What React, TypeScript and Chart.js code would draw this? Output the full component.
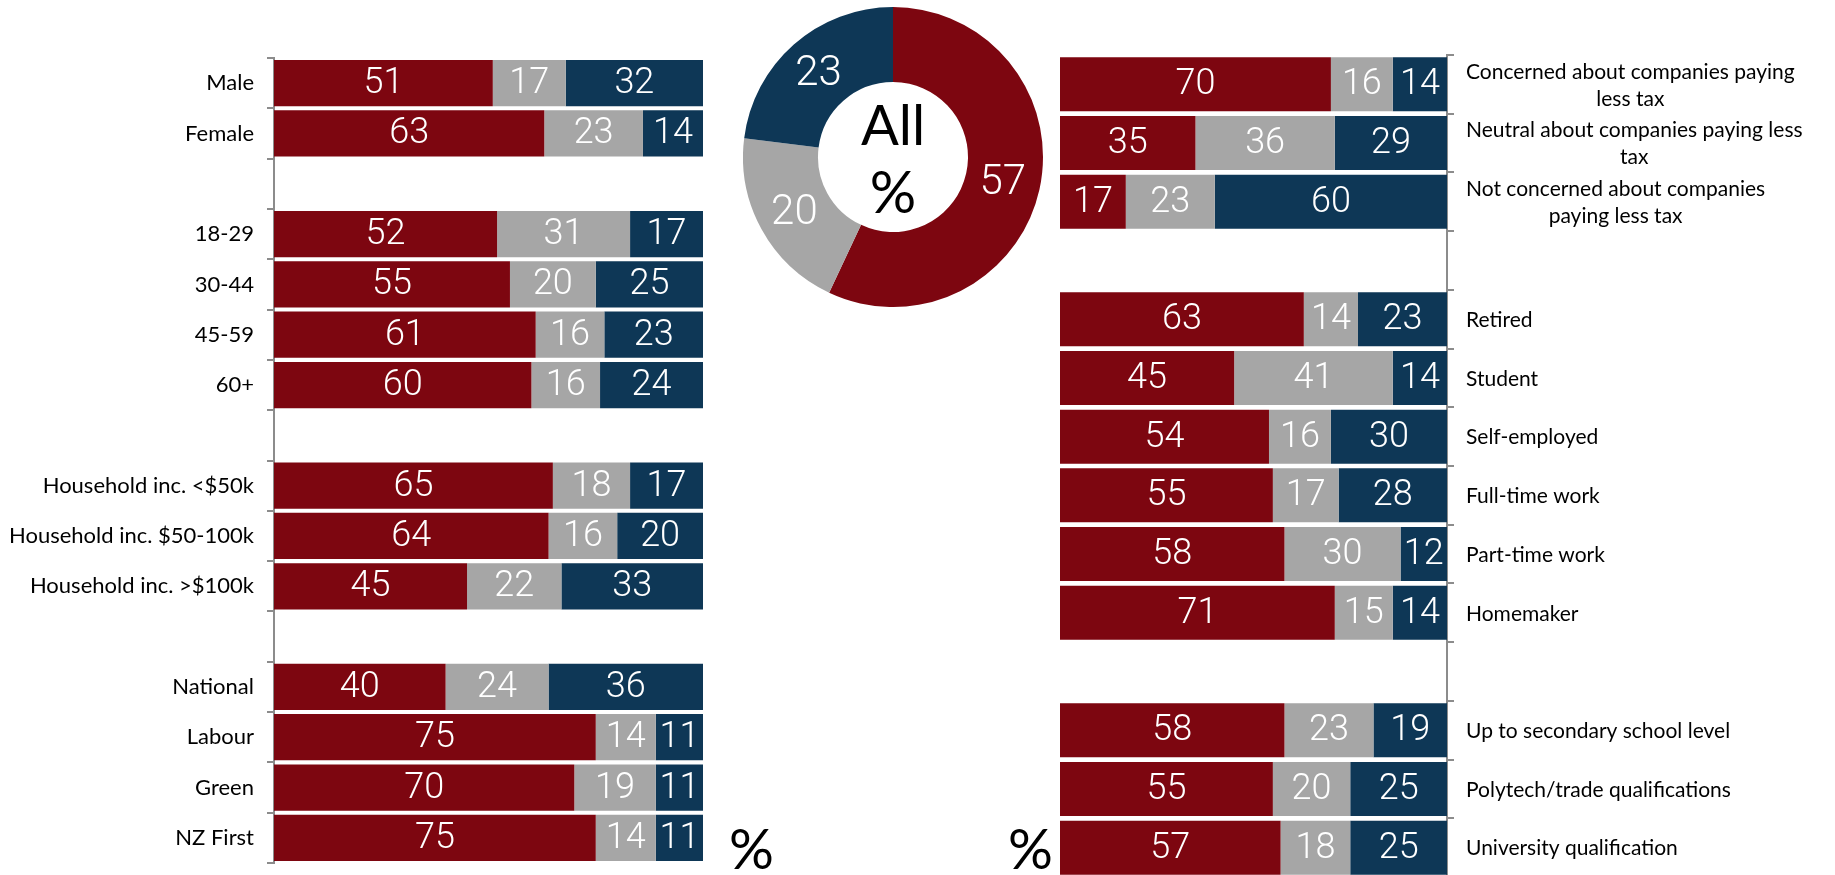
import React, { useEffect, useRef } from 'react';
import { Chart, registerables } from 'chart.js';

Chart.register(...registerables);

// ---------- data ----------
const leftCategories = [
  'Male', 'Female', '',
  '18-29', '30-44', '45-59', '60+', '',
  'Household inc. <$50k', 'Household inc. $50-100k', 'Household inc. >$100k', '',
  'National', 'Labour', 'Green', 'NZ First',
];
const leftConcerned = [51, 63, null, 52, 55, 61, 60, null, 65, 64, 45, null, 40, 75, 70, 75];
const leftNeutral = [17, 23, null, 31, 20, 16, 16, null, 18, 16, 22, null, 24, 14, 19, 14];
const leftNotConcerned = [32, 14, null, 17, 25, 23, 24, null, 17, 20, 33, null, 36, 11, 11, 11];

const rightCategories: (string | string[])[] = [
  ['Concerned about companies paying', 'less tax'],
  ['Neutral about companies paying less', 'tax'],
  ['Not concerned about companies', 'paying less tax'],
  '',
  'Retired', 'Student', 'Self-employed', 'Full-time work', 'Part-time work', 'Homemaker',
  '',
  'Up to secondary school level', 'Polytech/trade qualifications', 'University qualification',
];
const rightConcerned = [70, 35, 17, null, 63, 45, 54, 55, 58, 71, null, 58, 55, 57];
const rightNeutral = [16, 36, 23, null, 14, 41, 16, 17, 30, 15, null, 23, 20, 18];
const rightNotConcerned = [14, 29, 60, null, 23, 14, 30, 28, 12, 14, null, 19, 25, 25];

const seriesNames = ['Concerned', 'Neutral', 'Not concerned'];
const allValues = [57, 20, 23];
const centerLines = ['All', '%'];

// ---------- styles ----------
const RED = '#7D0610';
const GRAY = '#A6A6A6';
const BLUE = '#0E3756';
const AXIS = '#8C8C8C';
const LABEL_FONT = 'Lato';
const NUM_FONT = '300 36px Roboto';

// ---------- plugins ----------
const barValueLabels = {
  id: 'barValueLabels',
  afterDatasetsDraw(chart: any, _args: any, opts: any) {
    const ctx = chart.ctx;
    ctx.save();
    ctx.fillStyle = '#fff';
    ctx.font = opts.font || NUM_FONT;
    ctx.textAlign = 'center';
    ctx.textBaseline = 'middle';
    chart.data.datasets.forEach((ds: any, i: number) => {
      const meta = chart.getDatasetMeta(i);
      meta.data.forEach((el: any, j: number) => {
        const v = ds.data[j];
        if (v == null) return;
        const p = el.getProps(['x', 'y', 'base'], true);
        ctx.fillText(String(v), (p.x + p.base) / 2, p.y + 1);
      });
    });
    ctx.restore();
  },
};

const sideLabels = {
  id: 'sideLabels',
  afterDraw(chart: any, _args: any, opts: any) {
    if (!opts || !opts.enabled) return;
    const ctx = chart.ctx;
    const yScale = chart.scales.y;
    ctx.save();
    ctx.font = opts.font;
    ctx.fillStyle = '#000';
    ctx.textBaseline = 'middle';
    ctx.textAlign = 'center';
    const x0 = chart.chartArea.right + opts.gap;
    chart.data.labels.forEach((lab: any, i: number) => {
      const lines: string[] = Array.isArray(lab) ? lab : [lab];
      if (!lines[0]) return;
      const w = Math.max(...lines.map((l) => ctx.measureText(l).width));
      const cy = yScale.getPixelForValue(i);
      const total = (lines.length - 1) * opts.lineHeight;
      lines.forEach((l, k) => ctx.fillText(l, x0 + w / 2, cy - total / 2 + k * opts.lineHeight + 1));
    });
    ctx.restore();
  },
};

const donutLabels = {
  id: 'donutLabels',
  afterDatasetsDraw(chart: any) {
    const ctx = chart.ctx;
    const meta = chart.getDatasetMeta(0);
    const ds = chart.data.datasets[0];
    ctx.save();
    ctx.fillStyle = '#fff';
    ctx.font = '300 42px Roboto';
    ctx.textAlign = 'center';
    ctx.textBaseline = 'middle';
    meta.data.forEach((arc: any, i: number) => {
      const p = arc.getCenterPoint(true);
      ctx.fillText(String(ds.data[i]), p.x, p.y + 2);
    });
    const c = meta.data[0];
    const cx = c.x;
    const cy = c.y;
    ctx.fillStyle = '#000';
    ctx.font = '400 56px Lato';
    ctx.fillText(centerLines[0], cx, cy - 30);
    ctx.font = '400 58px Lato';
    ctx.fillText(centerLines[1], cx, cy + 37);
    ctx.restore();
  },
};

function makeBarConfig(
  labels: any[],
  a: (number | null)[],
  b: (number | null)[],
  c: (number | null)[],
  side: 'left' | 'right',
  axisWidth: number,
  padding: any,
  barPct: number,
) {
  const mk = (label: string, data: (number | null)[], color: string) => ({
    label,
    data,
    backgroundColor: color,
    borderWidth: 0,
    barPercentage: barPct,
    categoryPercentage: 1,
  });
  return {
    type: 'bar' as const,
    data: {
      labels,
      datasets: [mk(seriesNames[0], a, RED), mk(seriesNames[1], b, GRAY), mk(seriesNames[2], c, BLUE)],
    },
    plugins: [barValueLabels, sideLabels],
    options: {
      indexAxis: 'y' as const,
      animation: false as const,
      responsive: true,
      maintainAspectRatio: false,
      layout: { padding },
      plugins: {
        legend: { display: false },
        tooltip: { enabled: false },
        barValueLabels: { font: NUM_FONT },
        sideLabels: side === 'right'
          ? { enabled: true, font: `21px ${LABEL_FONT}`, gap: 19, lineHeight: 27 }
          : { enabled: false },
      },
      scales: {
        x: { stacked: true, min: 0, max: 100, display: false },
        y: {
          stacked: true,
          position: side,
          offset: true,
          grid: {
            offset: true,
            drawOnChartArea: false,
            drawTicks: true,
            tickLength: 7,
            color: AXIS,
            lineWidth: 2,
          },
          border: { display: true, color: AXIS, width: 2 },
          ticks: {
            display: side === 'left',
            autoSkip: false,
            color: '#000',
            padding: 13,
            font: { family: LABEL_FONT, size: 22 },
          },
          afterFit: (s: any) => {
            s.width = axisWidth;
            s.paddingTop = 0;
            s.paddingBottom = 0;
          },
        },
      },
    },
  };
}

function ChartBox(props: { config: any; style: React.CSSProperties }) {
  const ref = useRef<HTMLCanvasElement | null>(null);
  useEffect(() => {
    if (!ref.current) return;
    const chart = new Chart(ref.current, props.config);
    return () => chart.destroy();
  }, []);
  return (
    <div style={{ position: 'absolute', ...props.style }}>
      <canvas ref={ref} />
    </div>
  );
}

export default function App() {
  const leftConfig = makeBarConfig(
    leftCategories, leftConcerned, leftNeutral, leftNotConcerned,
    'left', 274, { top: 58, bottom: 12, left: 0, right: 17 }, 0.92,
  );
  const rightConfig = makeBarConfig(
    rightCategories, rightConcerned, rightNeutral, rightNotConcerned,
    'right', 388, { top: 55, bottom: 23, left: 20, right: 0 }, 0.92,
  );
  const donutConfig = {
    type: 'doughnut' as const,
    data: {
      labels: seriesNames,
      datasets: [{ data: allValues, backgroundColor: [RED, GRAY, BLUE], borderWidth: 0 }],
    },
    plugins: [donutLabels],
    options: {
      animation: false as const,
      responsive: true,
      maintainAspectRatio: false,
      cutout: '50%',
      plugins: { legend: { display: false }, tooltip: { enabled: false } },
    },
  };
  const pctStyle: React.CSSProperties = {
    position: 'absolute',
    fontFamily: 'Lato',
    fontWeight: 400,
    fontSize: 56,
    lineHeight: '56px',
    color: '#000',
  };
  return (
    <div style={{ position: 'absolute', left: 0, top: 0, width: 1835, height: 875, overflow: 'hidden', background: '#fff' }}>
      <ChartBox config={leftConfig} style={{ left: 0, top: 0, width: 720, height: 875 }} />
      <ChartBox config={donutConfig} style={{ left: 743, top: 7, width: 300, height: 300 }} />
      <ChartBox config={rightConfig} style={{ left: 1040, top: 0, width: 795, height: 900 }} />
      <div style={{ ...pctStyle, left: 729, top: 820 }}>%</div>
      <div style={{ ...pctStyle, left: 1008, top: 820 }}>%</div>
    </div>
  );
}
